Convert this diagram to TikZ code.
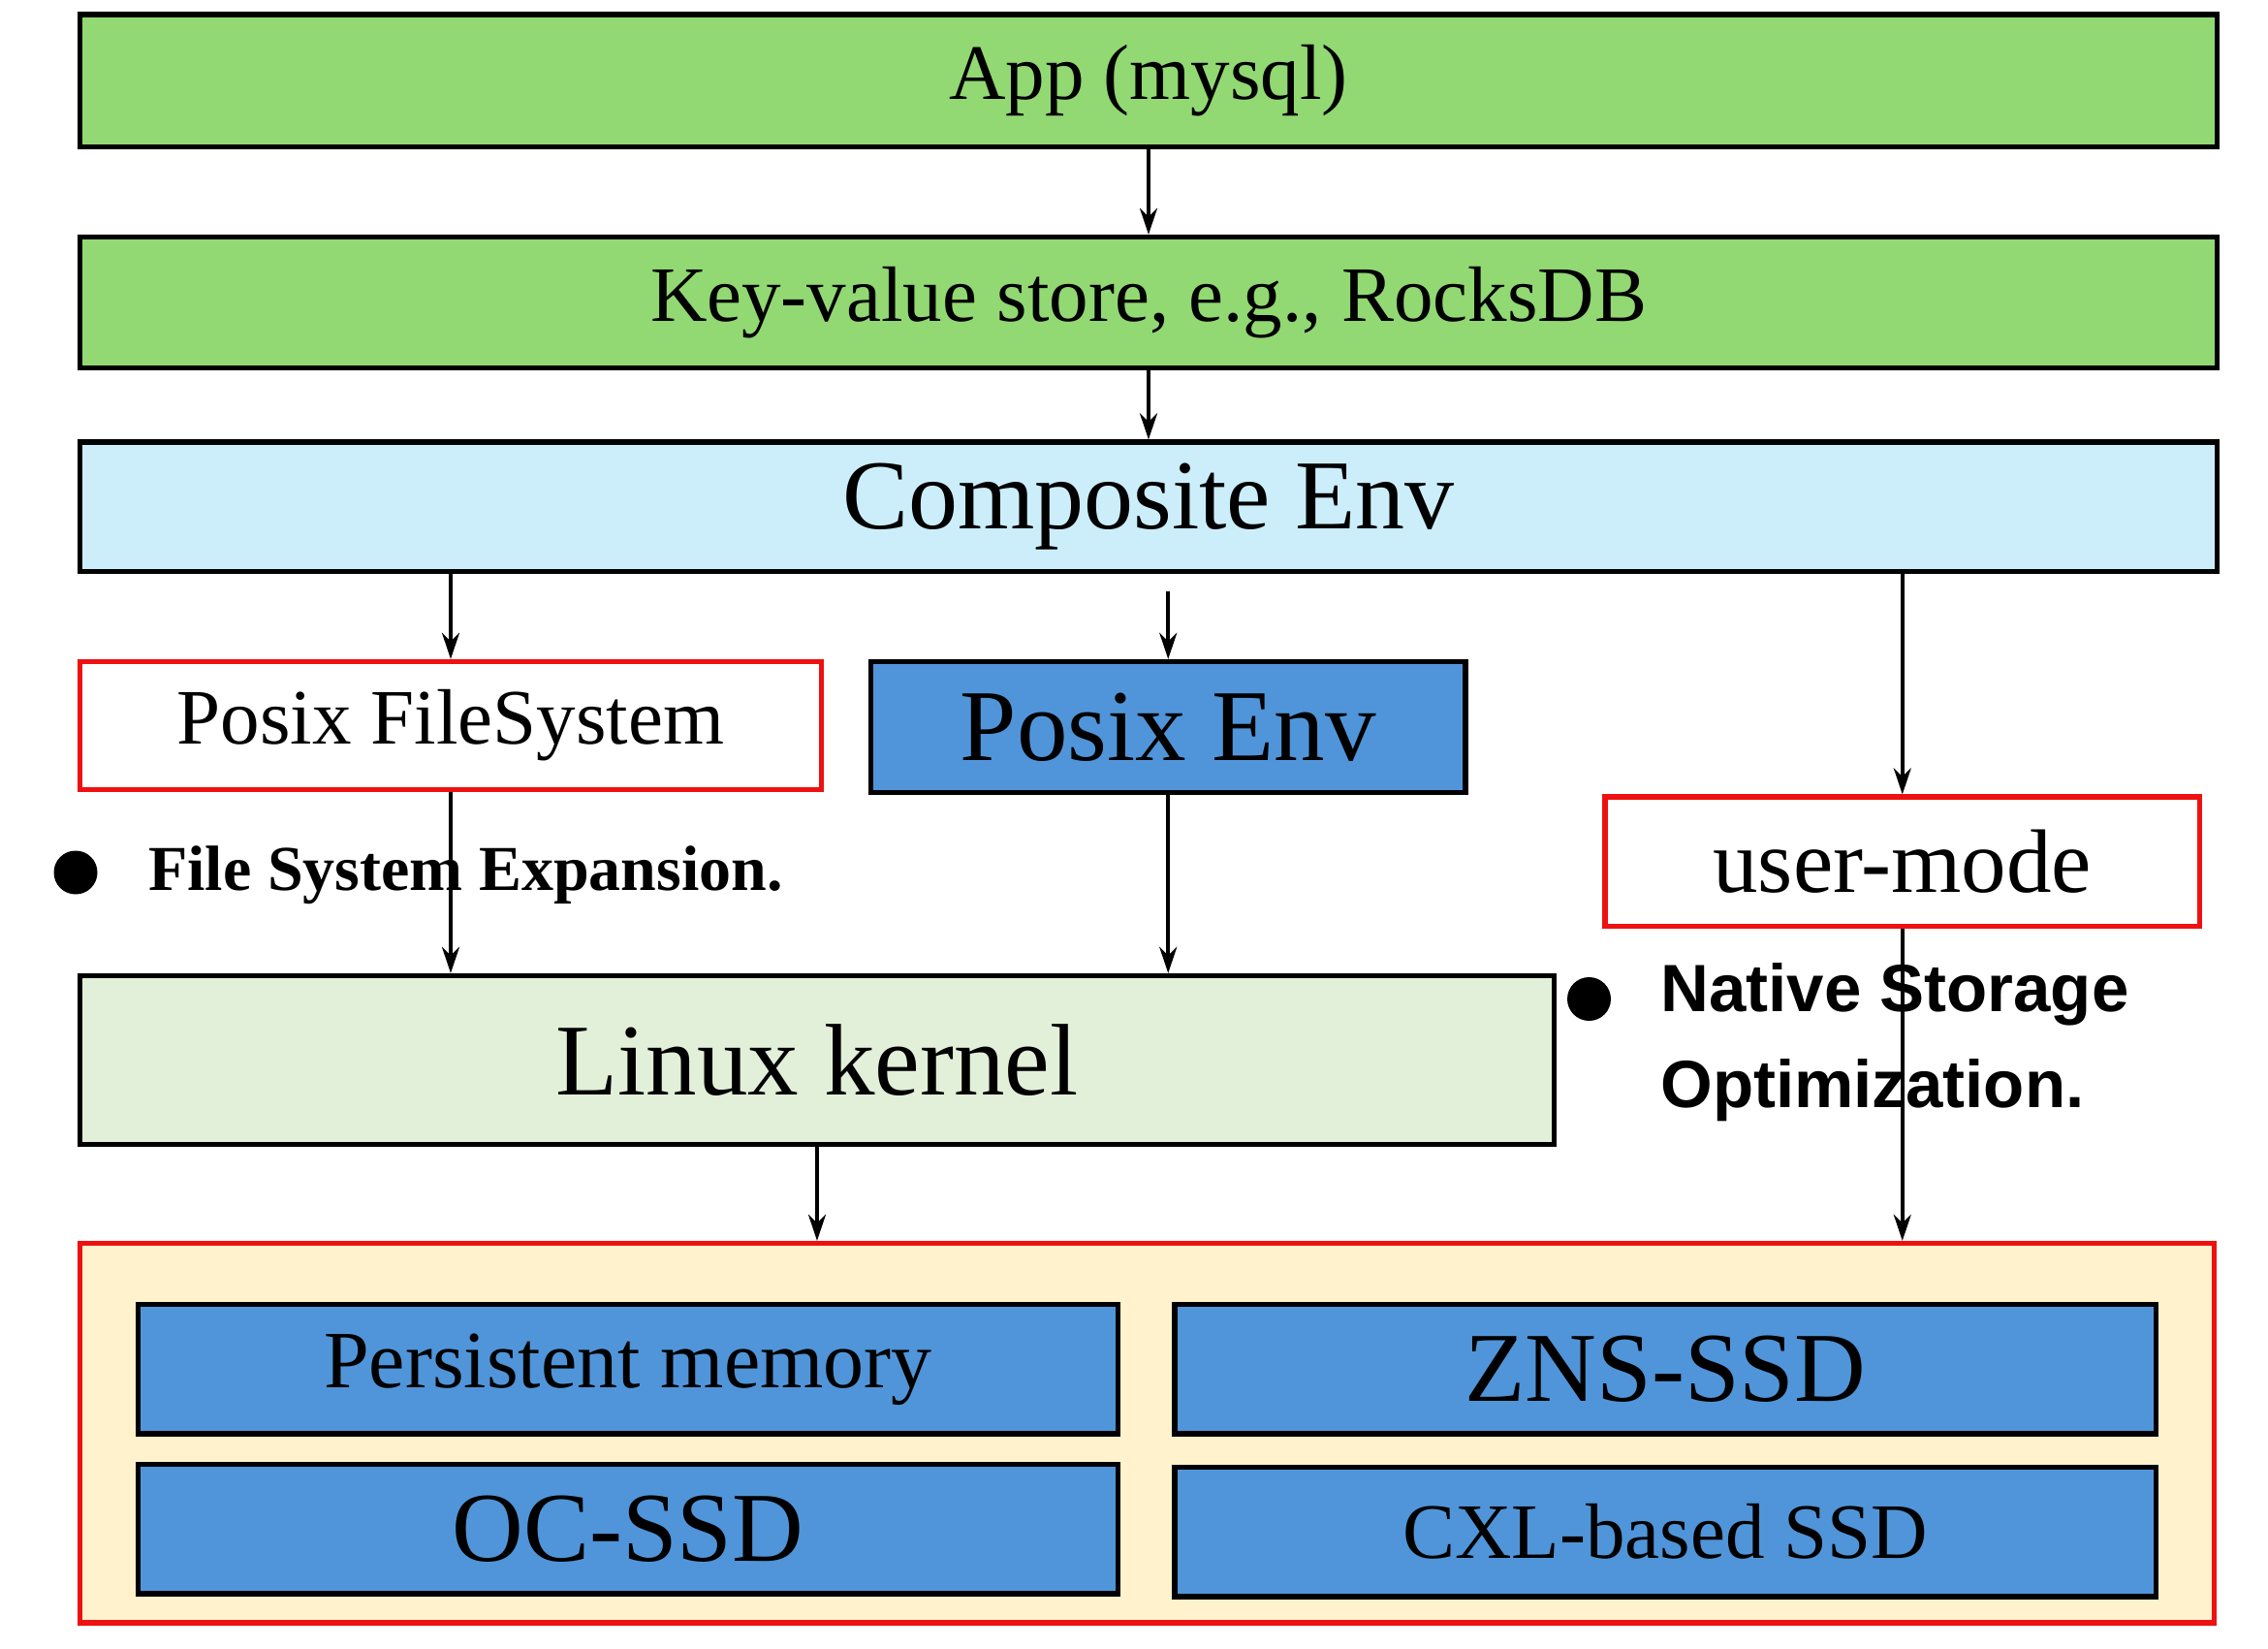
\documentclass[tikz,border=0pt]{standalone}
\usepackage{fontspec}
\setmainfont{Liberation Serif}
\newfontfamily\sansf{Liberation Sans}
\usetikzlibrary{arrows.meta}
\definecolor{gr}{HTML}{92D873}
\definecolor{lb}{HTML}{CCEEFB}
\definecolor{bl}{HTML}{5095D9}
\definecolor{lg}{HTML}{E2EFD9}
\definecolor{yl}{HTML}{FFF2CC}
\definecolor{rd}{HTML}{EE1111}
\begin{document}
\begin{tikzpicture}[x=1pt,y=-1pt,
 box/.style={draw=black,line width=3.5pt,inner sep=0pt},
 rbox/.style={draw=rd,line width=3.5pt,inner sep=0pt,fill=white},
 arr/.style={line width=2.5pt,-{Stealth[length=18pt,width=12pt]}},
 fs/.style={font=\fontsize{#1}{#1}\selectfont}]
\useasboundingbox (0,0) rectangle (1560,1134);
\node[box,fill=gr,minimum width=1470,minimum height=91,fs=54] (app) at (790,55.5) {App (mysql)};
\node[box,fill=gr,minimum width=1470,minimum height=90,fs=54] (kv) at (790,208) {Key-value store, e.g., RocksDB};
\node[box,fill=lb,minimum width=1470,minimum height=89,fs=68] (comp) at (790,348.5) {Composite Env};
\node[rbox,minimum width=510,minimum height=88,fs=54] (pfs) at (310,499) {Posix FileSystem};
\node[box,fill=bl,minimum width=409,minimum height=90,fs=70] (pe) at (803.5,500) {Posix Env};
\node[rbox,minimum width=409,minimum height=89,fs=62] (um) at (1308.5,592.5) {user-mode};
\node[box,fill=lg,minimum width=1014,minimum height=116,fs=70] (lk) at (562,729) {Linux kernel};
\node[draw=rd,line width=3.5pt,fill=yl,minimum width=1468,minimum height=261] (st) at (789,985.5) {};
\node[box,fill=bl,minimum width=674,minimum height=89,fs=56] (pm) at (432,941.5) {Persistent memory};
\node[box,fill=bl,minimum width=675,minimum height=89,fs=68] (zns) at (1145.5,941.5) {ZNS-SSD};
\node[box,fill=bl,minimum width=674,minimum height=89,fs=68] (oc) at (432,1051.5) {OC-SSD};
\node[box,fill=bl,minimum width=675,minimum height=89,fs=54] (cxl) at (1145.5,1053.5) {CXL-based SSD};
\draw[arr] (app.south) -- (kv.north);
\draw[arr] (kv.south) -- (comp.north);
\draw[arr] (comp.south -| pfs.north) -- (pfs.north);
\draw[arr] ([yshift=-12pt]comp.south -| pe.north) -- (pe.north);
\draw[arr] (comp.south -| um.north) -- (um.north);
\draw[arr] (pfs.south) -- (lk.north -| pfs.south);
\draw[arr] (pe.south) -- (lk.north -| pe.south);
\draw[arr] (lk.south) -- (st.north -| lk.south);
\node[fill=black,circle,minimum size=30pt,inner sep=0pt] (b1) at (52,600) {};
\node[anchor=west,fs=44,font=\bfseries\fontsize{44}{44}\selectfont,inner sep=0pt] (t1) at (102,602) {File System Expansion.};
\draw[arr] (um.south) -- (st.north -| um.south);
\node[fill=black,circle,minimum size=30pt,inner sep=0pt] (b2) at (1093,687) {};
\node[anchor=north west,align=left,inner sep=0pt,font=\sansf\bfseries\fontsize{46}{66}\selectfont] (t2) at (1142,662) {Native Storage\\Optimization.};
\draw[line width=2.5pt] (um.south) -- ([yshift=-10pt]um.south|-t2.north);
\end{tikzpicture}
\end{document}
